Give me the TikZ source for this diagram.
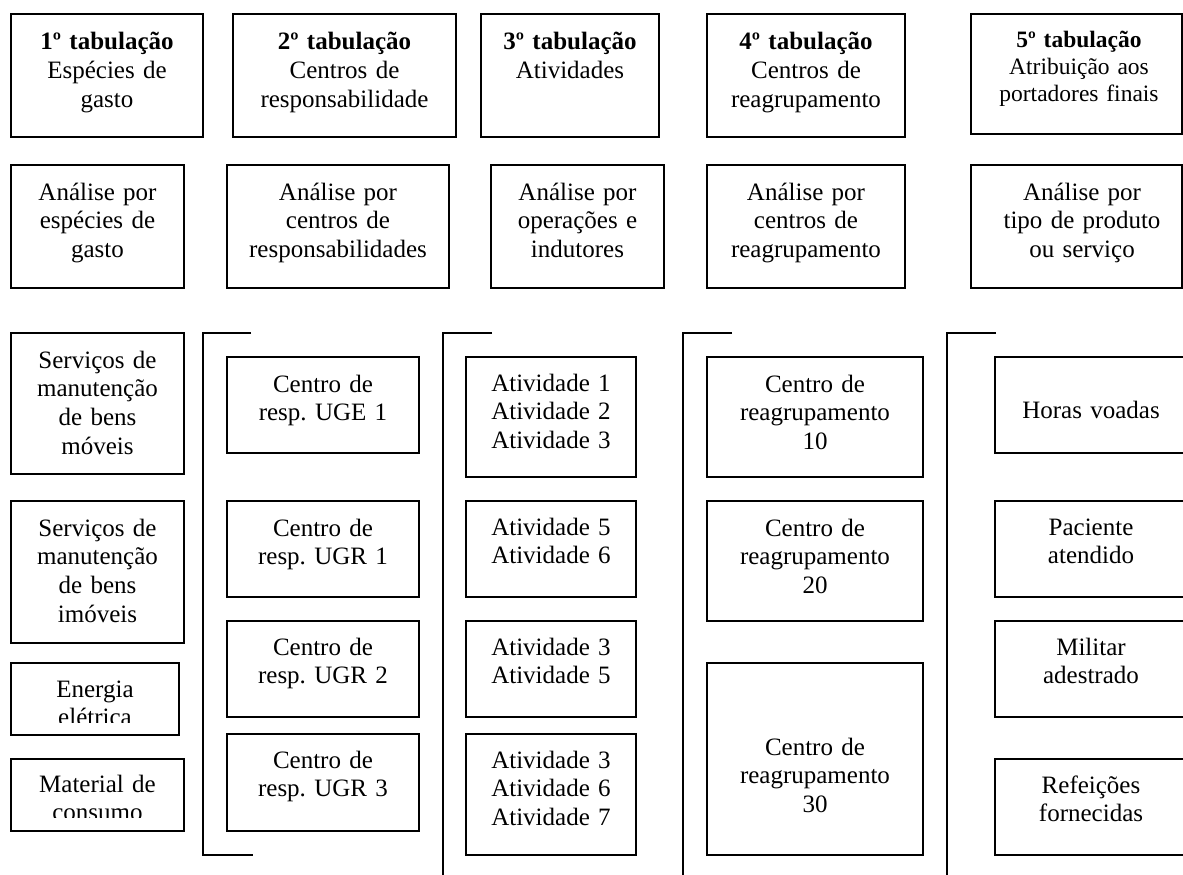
\documentclass[tikz,border=0pt]{standalone}
\usepackage{fontspec}
\setmainfont{Liberation Serif}
\usetikzlibrary{fit}
\frenchspacing
\tikzset{
 box/.style={draw, line width=1.6pt, inner sep=0pt},
 txt/.style={align=center, text width=230pt, inner sep=0pt, font=\fontsize{25}{28.7}\selectfont, anchor=base},
 smalltxt/.style={align=center, text width=230pt, inner sep=0pt, font=\fontsize{23.5}{26.6}\selectfont, anchor=base},
 brk/.style={line width=1.5pt},
}
\begin{document}
\begin{tikzpicture}[x=1pt,y=-1pt]
\useasboundingbox (0,0) rectangle (1183,875);
\clip (0,0) rectangle (1183,875);

% Row 1
\node[box, fit={(11,14)(203,137)}] (t1) {};
\node[txt] (t1t) at (107,50) {\textbf{1º tabulação}\\Espécies de\\gasto};
\node[box, fit={(233,14)(456,137)}] (t2) {};
\node[txt] (t2t) at (344.5,50) {\textbf{2º tabulação}\\Centros de\\responsabilidade};
\node[box, fit={(481,14)(659,137)}] (t3) {};
\node[txt] (t3t) at (570,50) {\textbf{3º tabulação}\\Atividades};
\node[box, fit={(707,14)(905,137)}] (t4) {};
\node[txt] (t4t) at (806,50) {\textbf{4º tabulação}\\Centros de\\reagrupamento};
\node[box, fit={(971,14)(1182,134)}] (t5) {};
\node[smalltxt] (t5t) at (1079,48) {\textbf{5º tabulação}\\Atribuição aos\\portadores finais};

% Row 2
\node[box, fit={(11,165)(184,288)}] (a1) {};
\node[txt] (a1t) at (97.5,200) {Análise por\\espécies de\\gasto};
\node[box, fit={(227,165)(449,288)}] (a2) {};
\node[txt] (a2t) at (338,200) {Análise por\\centros de\\responsabilidades};
\node[box, fit={(491,165)(664,288)}] (a3) {};
\node[txt] (a3t) at (577.5,200) {Análise por\\operações e\\indutores};
\node[box, fit={(707,165)(905,288)}] (a4) {};
\node[txt] (a4t) at (806,200) {Análise por\\centros de\\reagrupamento};
\node[box, fit={(971,165)(1182,288)}] (a5) {};
\node[txt] (a5t) at (1082,200) {Análise por\\tipo de produto\\ou serviço};

% Column 1
\node[box, fit={(11,333)(184,474)}] (s1) {};
\node[txt] (s1t) at (97.5,368) {Serviços de\\manutenção\\de bens\\móveis};
\node[box, fit={(11,501)(184,643)}] (s2) {};
\node[txt] (s2t) at (97.5,536) {Serviços de\\manutenção\\de bens\\imóveis};
\node[box, fit={(11,663)(179,735)}] (s3) {};
\begin{scope}
\clip (11,663) rectangle (179,722);
\node[txt] (s3t) at (95,697) {Energia\\elétrica};
\end{scope}
\node[box, fit={(11,759)(184,831)}] (s4) {};
\begin{scope}
\clip (11,759) rectangle (184,817);
\node[txt] (s4t) at (97.5,792) {Material de\\consumo};
\end{scope}

% Bracket 1
\coordinate (b1a) at (251,333);
\coordinate (b1b) at (203,333);
\coordinate (b1c) at (203,855);
\coordinate (b1d) at (253,855);
\draw[brk] (b1a) -- (b1b) -- (b1c) -- (b1d);

% Column 2
\node[box, fit={(227,357)(419,453)}] (c1) {};
\node[txt] (c1t) at (323,392) {Centro de\\resp. UGE 1};
\node[box, fit={(227,501)(419,597)}] (c2) {};
\node[txt] (c2t) at (323,536) {Centro de\\resp. UGR 1};
\node[box, fit={(227,621)(419,717)}] (c3) {};
\node[txt] (c3t) at (323,655) {Centro de\\resp. UGR 2};
\node[box, fit={(227,734)(419,831)}] (c4) {};
\node[txt] (c4t) at (323,768) {Centro de\\resp. UGR 3};

% Bracket 2
\coordinate (b2a) at (492,333);
\coordinate (b2b) at (443,333);
\coordinate (b2c) at (443,880);
\draw[brk] (b2a) -- (b2b) -- (b2c);

% Column 3
\node[box, fit={(466,357)(636,477)}] (d1) {};
\node[txt] (d1t) at (551,391) {Atividade 1\\Atividade 2\\Atividade 3};
\node[box, fit={(466,501)(636,597)}] (d2) {};
\node[txt] (d2t) at (551,535) {Atividade 5\\Atividade 6};
\node[box, fit={(466,621)(636,717)}] (d3) {};
\node[txt] (d3t) at (551,655) {Atividade 3\\Atividade 5};
\node[box, fit={(466,734)(636,855)}] (d4) {};
\node[txt] (d4t) at (551,768) {Atividade 3\\Atividade 6\\Atividade 7};

% Bracket 3
\coordinate (b3a) at (732,333);
\coordinate (b3b) at (683,333);
\coordinate (b3c) at (683,880);
\draw[brk] (b3a) -- (b3b) -- (b3c);

% Column 4
\node[box, fit={(707,357)(923,477)}] (r1) {};
\node[txt] (r1t) at (815,392) {Centro de\\reagrupamento\\10};
\node[box, fit={(707,501)(923,621)}] (r2) {};
\node[txt] (r2t) at (815,536) {Centro de\\reagrupamento\\20};
\node[box, fit={(707,663)(923,855)}] (r3) {};
\node[txt] (r3t) at (815,755) {Centro de\\reagrupamento\\30};

% Bracket 4
\coordinate (b4a) at (996,333);
\coordinate (b4b) at (947,333);
\coordinate (b4c) at (947,880);
\draw[brk] (b4a) -- (b4b) -- (b4c);

% Column 5
\node[box, fit={(995,357)(1188,453)}] (p1) {};
\node[txt] (p1t) at (1091,418) {Horas voadas};
\node[box, fit={(995,501)(1188,597)}] (p2) {};
\node[txt] (p2t) at (1091,535) {Paciente\\atendido};
\node[box, fit={(995,621)(1188,717)}] (p3) {};
\node[txt] (p3t) at (1091,655) {Militar\\adestrado};
\node[box, fit={(995,759)(1188,855)}] (p4) {};
\node[txt] (p4t) at (1091,793) {Refeições\\fornecidas};
\end{tikzpicture}
\end{document}
